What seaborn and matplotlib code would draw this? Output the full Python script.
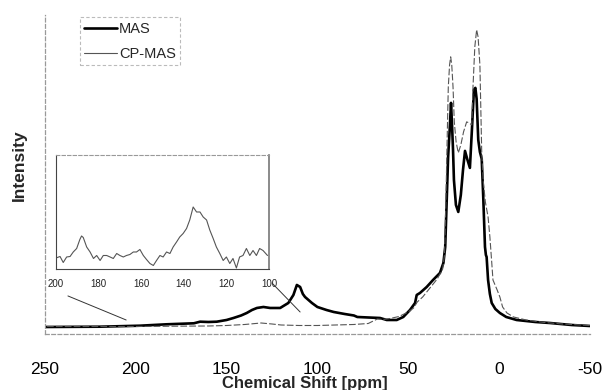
import numpy as np
import pandas as pd
import matplotlib
matplotlib.use("Agg")
import matplotlib.pyplot as plt
import seaborn as sns
from matplotlib.patches import ConnectionPatch

# ---------------- data ----------------
mas_ppm = [250, 230, 219.6, 197.6, 183, 168, 164.6, 160, 155.4, 150, 146.2, 142, 138.9,
           136, 133.3, 129.7, 126, 120.5, 116, 113.2, 111.3, 109.5, 108, 106.8, 103,
           100, 95, 91, 85, 79.9, 78, 72, 65.5, 61.8, 56.3, 52.7, 49, 46.2, 45.3, 43.5,
           39.8, 36.3, 32.5, 30.6, 29.6, 28.8, 28, 27.2, 26.4, 25.8, 25.3, 24.8, 23.7,
           22.4, 21, 19.8, 18.7, 17.5, 16, 14.9, 13.8, 13, 12.3, 11.4, 10.5, 9.5, 8.6,
           7.7, 7.2, 6.8, 6, 5, 4, 2, -0.5, -4, -9.7, -20, -28, -40, -50]
mas_int = [0, 0.2, 0.3, 1.3, 2.7, 3.7, 5.3, 5, 5.3, 7, 9, 11.5, 14,
           17, 19, 20, 19, 19, 24, 32, 42, 40, 33, 30, 24,
           20, 17, 15, 13, 11.5, 10, 9.5, 9, 7, 7, 10, 17, 24, 32, 34,
           40, 47, 54, 64, 80, 125, 170, 195, 224, 200, 177, 147, 122,
           115, 132, 157, 176, 168, 159, 197, 237, 239, 228, 187, 175, 168, 127,
           80, 72, 70, 47, 33, 24, 18, 14, 10, 7, 5, 4, 2, 1]

cp_ppm = [250, 220, 200, 180, 160, 150, 140, 131, 125, 120, 110, 100, 90, 80, 72, 67,
          64, 60, 55, 50, 47, 45, 42, 38, 34, 31, 30, 29.3, 28.5, 27.9, 27.2, 26.6, 26,
          25.3, 24.6, 23.6, 22.4, 21, 19.5, 17.8, 16.5, 15, 14.3, 13.3, 12.3, 11.5,
          10.5, 9.5, 8.6, 7.5, 6, 5, 4, 3.3, 1, -0.5, -2, -4.4, -8, -15, -25, -35, -50]
cp_int = [0.5, 0.5, 0.5, 0.8, 1, 1.5, 2.5, 4, 3, 2, 1.5, 1.5, 2, 2.5, 3.5, 8,
          7.5, 8.5, 10.5, 15, 19, 25, 30, 39, 48, 58, 72, 120, 190, 240, 262, 270, 262,
          240, 205, 185, 174, 182, 195, 205, 204, 202, 240, 280, 297, 290,
          262, 175, 145, 125, 110, 90, 65, 47, 37, 30, 20, 14, 10, 7, 4.5, 3, 1.5]

inset_ppm = [200, 198.1, 196.6, 195, 193.4, 191.9, 190.3, 188.8, 188, 187.2, 185.6, 184,
             182.4, 180.9, 179.3, 177.8, 176.2, 174.6, 173.1, 171.5, 170, 168.4, 166.9,
             165.3, 163.7, 162.2, 160.6, 159, 157.5, 155.9, 154.3, 152.8, 151.2, 149.7,
             148.1, 146.5, 145, 143.4, 141.9, 140.3, 138.7, 137.2, 135.6, 134, 132.4,
             130.9, 129.3, 127.8, 126.2, 124.7, 123.1, 121.5, 120, 118.4, 116.9, 115.3,
             113.8, 112.2, 110.6, 109, 107.5, 105.9, 104.4, 102.8, 100.7]
inset_int = [11.5, 13, 7, 12.5, 13, 17.5, 21, 30, 33.5, 32, 22.5, 17.5,
             11, 14, 9, 14, 14, 12.5, 11, 16, 14, 12.5, 14, 15, 17.5, 17.5, 20, 14,
             10, 6, 4, 9, 14, 12.5, 17.5, 16, 22.5, 27.5, 32.5, 36, 41, 49.5, 62.5,
             57.5, 57.5, 52.5, 49.5, 39.5, 31, 22.5, 16, 9, 12.5, 6, 11, 1.5, 12.5,
             14, 21, 14, 19, 14, 21, 19, 14]

tick_values = [250, 200, 150, 100, 50, 0, -50]
inset_ticks = [200, 180, 160, 140, 120, 100]
series_names = ["MAS", "CP-MAS"]

# zoom connector anchors: (inset axes fraction) -> (main data)
conn1 = ((0.056, -0.231), (205.3, 7))
conn2 = ((1.014, -0.118), (109.5, 15))

# ---------------- figure ----------------
sns.set_theme(style="white")
plt.rcParams["font.family"] = ["Liberation Sans", "DejaVu Sans"]

fig = plt.figure(figsize=(6.08, 3.90), dpi=100)
ax = fig.add_axes([0.074, 0.1436, 0.896, 0.8184])

df_mas = pd.DataFrame({"ppm": mas_ppm, "I": mas_int})
df_cp = pd.DataFrame({"ppm": cp_ppm, "I": cp_int})

sns.lineplot(data=df_mas, x="ppm", y="I", ax=ax, color="black", lw=1.9,
             label=series_names[0], sort=True, estimator=None)
sns.lineplot(data=df_cp, x="ppm", y="I", ax=ax, color="#555555", lw=0.8,
             label=series_names[1], sort=True, estimator=None)
ax.lines[1].set_linestyle((0, (6, 2)))

ax.set_xlim(250, -50)
ax.set_ylim(-7, 312)
ax.set_xticks(tick_values)
ax.set_xticklabels([str(t) for t in tick_values])
ax.set_yticks([])
ax.tick_params(axis="x", length=0, pad=20, labelsize=12.5, colors="black")
ax.set_xlabel("Chemical Shift [ppm]", fontsize=12, fontweight="bold")
ax.xaxis.set_label_coords(0.477, -0.132)
ax.set_ylabel("Intensity", fontsize=12.5, fontweight="bold")
ax.yaxis.set_label_coords(-0.033, 0.53)

for s in ["top", "right"]:
    ax.spines[s].set_visible(False)
for s in ["left", "bottom"]:
    ax.spines[s].set_color("#999999")
    ax.spines[s].set_linestyle((0, (3, 2)))
    ax.spines[s].set_linewidth(0.9)

leg = ax.legend(loc="upper left", bbox_to_anchor=(0.05, 1.015), fontsize=10.5,
                frameon=True, handlelength=2.3, handletextpad=0.1,
                labelspacing=0.75, borderpad=0.3, fancybox=False)
leg.get_frame().set_edgecolor("#aaaaaa")
leg.get_frame().set_linestyle((0, (3, 2)))
leg.get_frame().set_linewidth(0.8)
leg.get_lines()[1].set_linestyle("-")

# ---------------- inset ----------------
axin = fig.add_axes([0.0921, 0.309, 0.3503, 0.2936])
axin.set_facecolor("none")
df_in = pd.DataFrame({"ppm": inset_ppm, "I": inset_int})
sns.lineplot(data=df_in, x="ppm", y="I", ax=axin, color="#555555", lw=0.8,
             sort=True, estimator=None, legend=False)
axin.set_xlim(200, 100)
axin.set_ylim(0, 114.5)
axin.set_xticks(inset_ticks)
axin.set_xticklabels([str(t) for t in inset_ticks])
axin.set_yticks([])
axin.set_xlabel("")
axin.set_ylabel("")
axin.tick_params(axis="x", length=0, pad=7, labelsize=7, colors="#222222")
axin.spines["top"].set_color("#999999")
axin.spines["top"].set_linestyle((0, (3, 2)))
axin.spines["top"].set_linewidth(0.8)
for s in ["left", "bottom"]:
    axin.spines[s].set_color("#444444")
    axin.spines[s].set_linewidth(0.8)
axin.spines["right"].set_color("#777777")
axin.spines["right"].set_linewidth(1.2)

for (a, b) in [conn1, conn2]:
    cp = ConnectionPatch(xyA=a, coordsA=axin.transAxes, xyB=b, coordsB=ax.transData,
                         color="#333333", lw=0.7)
    fig.add_artist(cp)

fig.savefig("out.png", dpi=100)
